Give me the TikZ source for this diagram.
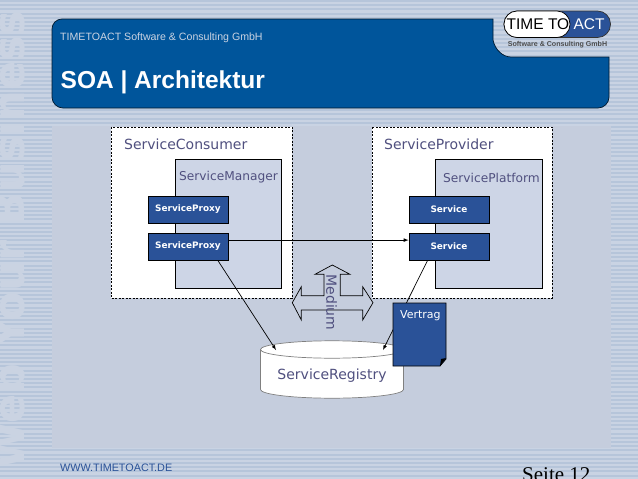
\documentclass[tikz,border=0pt]{standalone}
\usepackage{fontspec}
\setmainfont{Liberation Sans}
\newfontfamily\verd{DejaVu Sans}
\newfontfamily\tim{Liberation Serif}
\definecolor{headblue}{HTML}{00559B}
\definecolor{stripea}{HTML}{B6C5DA}
\definecolor{stripeb}{HTML}{C9D3E3}
\definecolor{panel}{HTML}{C5CDDD}
\definecolor{inner}{HTML}{CDD5E6}
\definecolor{boxblue}{HTML}{2A5298}
\definecolor{labelblue}{HTML}{50507F}
\definecolor{water}{HTML}{CAD3E2}
\tikzset{
  outerbox/.style={draw=black,fill=white,line width=0.7pt,dash pattern=on 2pt off 1.5pt},
  innerbox/.style={draw=black,fill=inner,line width=0.8pt},
  compbox/.style={draw=black,fill=boxblue,line width=0.8pt,text=white,font=\verd\bfseries\fontsize{8.9}{10}\selectfont,minimum width=80pt,minimum height=27pt,inner sep=0pt},
  lab/.style={text=labelblue,inner sep=0pt,font=\verd\fontsize{#1}{#1}\selectfont},
  link/.style={-latex,line width=0.7pt}
}
\begin{document}
\begin{tikzpicture}[x=1pt,y=-1pt]
\useasboundingbox (0,0) rectangle (638,479);
\clip (0,0) rectangle (638,479);
% background
\fill[stripeb] (0,0) rectangle (638,479);
\foreach \y in {0,4.2,...,479} {
  \fill[stripea] (0,\y) rectangle (638,\y+2);
}
\node[rotate=90,anchor=base,text=water,inner sep=0pt,font=\verd\bfseries\fontsize{43}{43}\selectfont] (water) at (24,240) {Web Your Business};
\fill[panel] (52,126) rectangle (611,448);
% header
\draw[fill=headblue,draw=black!70!headblue,line width=0.7pt] (52,29) arc (180:270:10) -- (493,19) -- (493,40)
  .. controls (495,50) and (503,57) .. (511,57) -- (609,57) -- (609,97) arc (0:90:11) -- (63,108) arc (90:180:11) -- cycle;
\node[anchor=west,text=water,inner sep=0pt,font=\fontsize{10.6}{12}\selectfont] (company) at (60,37.5) {TIMETOACT Software \& Consulting GmbH};
\node[anchor=west,text=white,inner sep=0pt,font=\bfseries\fontsize{24.5}{25}\selectfont] (title) at (60.5,82.5) {SOA | Architektur};
% logo
\draw[fill=boxblue,draw=black!80,line width=0.7pt,rounded corners=13pt] (504,11) rectangle (610.5,37.5);
\draw[fill=white,draw=black,line width=0.7pt,rounded corners=13pt] (504,11) rectangle (570,37.5);
\node[inner sep=0pt,font=\fontsize{15.5}{16}\selectfont] (timeto) at (538,24.5) {TIME TO};
\node[inner sep=0pt,text=white,font=\fontsize{15.5}{16}\selectfont] (act) at (589,24.5) {ACT};
\node[inner sep=0pt,text=black!70,font=\bfseries\fontsize{7.1}{8}\selectfont] (soft) at (557.5,45) {Software \& Consulting GmbH};
% boxes
\draw[outerbox] (111,127) rectangle (292,298);
\draw[outerbox] (372,127) rectangle (552,298);
\draw[innerbox] (175,159) rectangle (281,288);
\draw[innerbox] (435,159) rectangle (542,288);
\node[lab=14,anchor=west] (consumer) at (124,144.5) {ServiceConsumer};
\node[lab=14,anchor=west] (provider) at (384,144.5) {ServiceProvider};
\node[lab=12.2,anchor=west] (manager) at (179,177.5) {ServiceManager};
\node[lab=12.2,anchor=west] (platform) at (443,177.5) {ServicePlatform};
\node[compbox] (proxya) at (188,209.5) {ServiceProxy};
\node[compbox] (proxyb) at (188,246.5) {ServiceProxy};
\node[compbox] (servicea) at (449,209.5) {Service};
\node[compbox] (serviceb) at (449,246.5) {Service};
% registry
\draw[fill=white,draw=black!50,line width=0.7pt] (260.5,349.5) arc (180:360:71.5 and 8.7) -- (403.5,389.5) arc (0:180:71.5 and 8.7) -- cycle;
\draw[draw=black!50,line width=0.7pt] (260.5,349.5) arc (180:0:71.5 and 8.7);
\node[lab=14] (registry) at (332,375.5) {ServiceRegistry};
\coordinate (regleft) at (276,350);
\coordinate (regright) at (383,350);
% medium
\draw[line width=0.7pt] (332.3,265) -- (350,274.3) -- (340.3,274.3) -- (340.3,295.7) -- (362.7,295.7) -- (362.7,286.7) -- (373,302.7)
  -- (362.7,320) -- (362.7,310) -- (301.3,310) -- (301.3,320) -- (292.3,302.7) -- (301.3,286.7) -- (301.3,295.7) -- (324,295.7) -- (324,274.3) -- (315,274.3) -- cycle;
\node[lab=14,rotate=-90] (medium) at (331.5,302.5) {Medium};
% connectors
\draw[link] (proxyb.9) -- (serviceb.171);
\draw[link] (proxyb.-25) -- (regleft);
\draw[link] (serviceb.-147) -- (regright);
% contract
\draw[fill=boxblue,draw=black,line width=0.8pt] (393,303) -- (446,303) -- (446,359) -- (440,366) -- (393,366) -- cycle;
\fill[black] (446,358) -- (440,366) -- (441,359) -- cycle;
\node[lab=11,text=white,anchor=west] (vertrag) at (400,316) {Vertrag};
% footer
\node[anchor=west,text=boxblue,inner sep=0pt,font=\fontsize{10.8}{11}\selectfont] (www) at (60,467.5) {WWW.TIMETOACT.DE};
\node[anchor=west,text=black,inner sep=0pt,font=\tim\fontsize{21}{21}\selectfont] (page) at (522,475) {Seite 12};
\end{tikzpicture}
\end{document}
